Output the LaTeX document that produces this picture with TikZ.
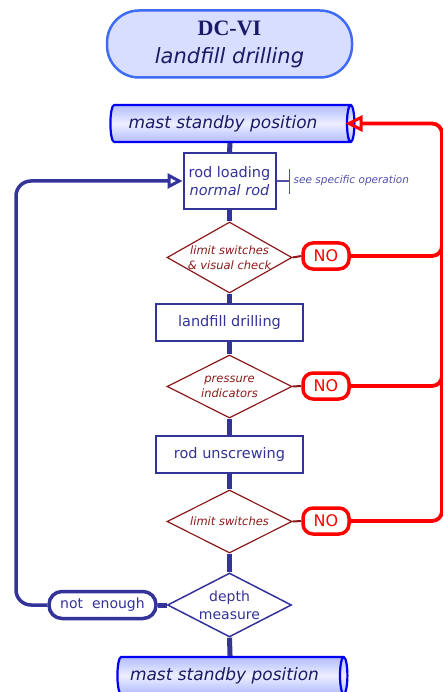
\documentclass[tikz,border=0pt]{standalone}
\usepackage{fontspec}
\setmainfont{DejaVu Sans}
\newfontfamily\serifbold{Liberation Serif}
\usetikzlibrary{shapes.geometric,shapes.misc,arrows.meta,calc}
\definecolor{navy}{HTML}{333399}
\definecolor{deepnavy}{HTML}{1A1A66}
\definecolor{titlefill}{HTML}{D8DEFF}
\definecolor{titleborder}{HTML}{3F6BF5}
\definecolor{cylblue}{HTML}{0000F0}
\definecolor{cylfill}{HTML}{B4BCFF}
\definecolor{darkred}{HTML}{8B1A1A}
\definecolor{annotc}{HTML}{5050A8}
\begin{document}
\begin{tikzpicture}[x=1pt,y=-1pt,
  titlebox/.style={draw=titleborder, line width=2.5pt, fill=titlefill, rounded corners=32pt,
    minimum width=245pt, minimum height=67pt, align=center, text=deepnavy, inner sep=0pt,
    font=\fontsize{21}{28}\selectfont},
  cyl/.style={cylinder, draw=cylblue, line width=2.2pt, shape border rotate=0, aspect=0.45,
    minimum width=37pt, text=deepnavy, font=\fontsize{17}{20}\selectfont\itshape,
    top color=cylfill, bottom color=cylfill, middle color=white!75!cylfill, inner sep=0pt},
  stepbox/.style={draw=navy, line width=2pt, fill=white, text=navy, align=center,
    font=\fontsize{14.5}{18.5}\selectfont, inner sep=0pt},
  checkdia/.style={diamond, draw=darkred, line width=1.2pt, fill=white, minimum width=125pt, inner sep=0pt},
  checktext/.style={text=darkred, align=center, font=\fontsize{11.5}{15}\selectfont\itshape, inner sep=0pt},
  depthdia/.style={diamond, draw=navy, line width=1.5pt, fill=white, minimum width=124pt, minimum height=64pt, inner sep=0pt},
  nobox/.style={draw=red, line width=3.5pt, fill=white, rounded corners=10pt, text=red,
    minimum width=46pt, minimum height=26pt, inner sep=0pt, font=\fontsize{16}{18}\selectfont},
  loopbox/.style={draw=navy, line width=3.5pt, fill=white, rounded corners=13pt, text=navy,
    minimum width=107pt, minimum height=27pt, inner sep=0pt, font=\fontsize{14}{16}\selectfont},
  conn/.style={draw=navy, line width=5pt},
  redline/.style={draw=red, line width=3.8pt},
  tolink/.style={draw=darkred, line width=2pt},
  loopline/.style={draw=navy, line width=3.5pt},
  annotline/.style={draw=annotc, line width=1.2pt}
]
\useasboundingbox (0,0) rectangle (443,692);

% nodes
\node[titlebox] (title) at (229.5,44)
  {{\serifbold\bfseries\fontsize{22}{28}\selectfont DC-VI}\\
   {\itshape landfill drilling}};
\node[cyl, minimum height=244pt] (cyl1) at (230,123.5) {mast standby position\hspace*{14pt}};
\node[stepbox, minimum width=92pt, minimum height=56pt] (rl) at (229.5,181)
  {rod loading\\{\itshape normal rod}};
\node[checkdia, minimum height=71pt] (d1) at (229.5,257.5) {};
\node[checktext] (t1) at (d1.center) {limit switches\\\& visual check};
\node[stepbox, minimum width=147pt, minimum height=37pt] (ld) at (229.5,322.5) {landfill drilling};
\node[checkdia, minimum height=63pt] (d2) at (229.5,386.5) {};
\node[checktext] (t2) at (d2.center) {pressure\\indicators};
\node[stepbox, minimum width=147pt, minimum height=37pt] (ru) at (229.5,454.5) {rod unscrewing};
\node[checkdia, minimum height=63pt] (d3) at (229.5,521.5) {};
\node[checktext] (t3) at (d3.center) {limit switches};
\node[depthdia] (dm) at (229.5,605) {};
\node[text=navy, align=center, font=\fontsize{14}{18}\selectfont, inner sep=0pt] (tm) at (dm.center) {depth\\measure};
\node[cyl, minimum height=230pt] (cyl2) at (230,675.5) {mast standby position\hspace*{11pt}};

\node[nobox] (no1) at (326,256) {NO};
\node[nobox] (no2) at (326,386) {NO};
\node[nobox] (no3) at (326,521) {NO};
\node[loopbox] (ne) at (102.5,605) {not\ \ enough};

% main flow
\draw[conn] (cyl1.south) -- (rl.north);
\draw[conn] (rl.south) -- (d1.north);
\draw[conn] (d1.south) -- (ld.north);
\draw[conn] (ld.south) -- (d2.north);
\draw[conn] (d2.south) -- (ru.north);
\draw[conn] (ru.south) -- (d3.north);
\draw[conn] (d3.south) -- (dm.north);
\draw[conn] (dm.south) -- (cyl2.north);
\draw[conn] (dm.west) -- (ne.east);

% to NO
\draw[tolink] (d1.east) -- (no1.west);
\draw[tolink] (d2.east) -- (no2.west);
\draw[tolink] (d3.east) -- (no3.west);

% red return
\coordinate (rtip) at ($(cyl1.east)+(-10,0)$);
\draw[redline, rounded corners=10pt, -{Triangle[open,length=17pt,width=16pt,line width=3pt]}]
  (no3.east) -| (442,123.5) -- (rtip);
\draw[redline, rounded corners=10pt] (no1.east) -| (442,235);
\draw[redline, rounded corners=10pt] (no2.east) -| (442,365);

% left loop
\draw[loopline, rounded corners=15pt, -{Triangle[open,length=15pt,width=15pt,line width=3pt]}]
  (ne.west) -| (16,181) -- (rl.west);

% annotation
\draw[annotline] (rl.east) -- ++(13,0) coordinate (tk);
\draw[annotline] ($(tk)+(0,-12)$) -- ($(tk)+(0,13)$);
\node[anchor=west, text=annotc, font=\fontsize{10.5}{12}\selectfont\itshape, inner sep=0pt] (see)
  at ($(tk)+(4,0)$) {see specific operation};
\end{tikzpicture}
\end{document}
